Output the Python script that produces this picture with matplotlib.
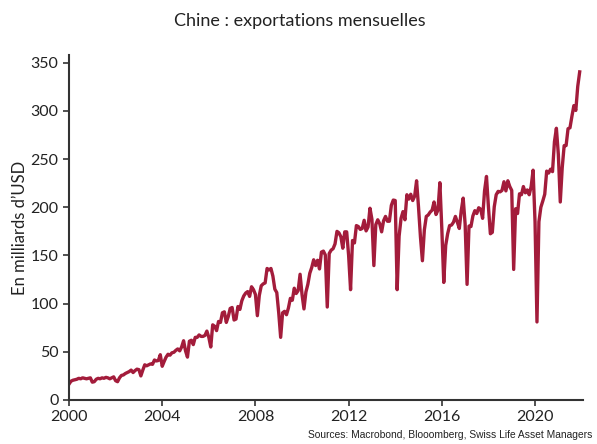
import numpy as np
import matplotlib
matplotlib.use("Agg")
import matplotlib.pyplot as plt

# monthly Chinese exports, bn USD (Jan..Dec)
years = list(range(2000, 2022))
exports = {
    2000: [16.5, 19.5, 20.5, 21.0, 21.5, 22.5, 22.0, 23.0, 22.5, 22.0, 22.5, 23.0],
    2001: [18.5, 19.0, 21.5, 22.5, 22.0, 23.0, 22.5, 23.5, 23.0, 22.0, 23.0, 24.0],
    2002: [20.0, 19.0, 23.0, 25.5, 26.0, 27.5, 28.5, 29.5, 31.0, 28.5, 30.5, 32.0],
    2003: [31.5, 25.0, 31.0, 36.5, 35.5, 36.5, 37.5, 37.0, 41.5, 40.5, 41.0, 47.0],
    2004: [35.0, 40.0, 44.5, 47.5, 46.5, 49.0, 49.5, 51.5, 53.0, 51.0, 55.0, 61.5],
    2005: [51.0, 44.5, 61.0, 62.0, 57.5, 65.0, 65.0, 67.5, 66.0, 66.0, 67.0, 71.5],
    2006: [65.0, 55.0, 78.0, 76.5, 72.0, 81.5, 80.5, 90.5, 91.5, 80.5, 86.5, 95.0],
    2007: [96.0, 83.0, 84.0, 97.0, 94.0, 103.0, 108.0, 111.0, 112.5, 107.5, 117.5, 114.5],
    2008: [109.5, 87.5, 108.5, 118.5, 120.5, 121.5, 136.5, 135.0, 136.5, 128.5, 115.0, 111.5],
    2009: [90.5, 65.0, 90.5, 92.0, 88.5, 95.5, 105.5, 103.5, 116.0, 110.5, 113.5, 130.5],
    2010: [109.5, 94.5, 112.0, 120.0, 131.5, 137.5, 145.5, 139.5, 145.0, 136.0, 153.5, 154.5],
    2011: [150.5, 96.5, 152.0, 155.5, 157.0, 162.0, 175.0, 173.5, 169.5, 157.5, 174.5, 174.5],
    2012: [150.0, 114.5, 165.5, 163.0, 181.0, 180.0, 177.0, 178.0, 186.5, 175.5, 179.5, 199.0],
    2013: [187.5, 139.5, 182.0, 187.0, 183.0, 174.5, 186.0, 190.5, 185.5, 185.5, 202.0, 207.5],
    2014: [207.0, 114.5, 170.0, 188.5, 195.5, 187.0, 213.0, 208.5, 213.5, 207.0, 211.5, 227.5],
    2015: [200.0, 169.0, 144.5, 176.5, 190.5, 192.0, 195.0, 197.0, 205.5, 192.5, 197.0, 225.5],
    2016: [177.5, 122.0, 160.5, 172.5, 181.0, 181.5, 184.5, 190.5, 184.5, 178.0, 196.5, 209.5],
    2017: [182.5, 120.0, 180.5, 180.0, 191.0, 196.5, 193.5, 199.5, 198.0, 188.5, 217.0, 232.0],
    2018: [200.5, 172.5, 174.0, 200.5, 213.0, 216.5, 216.0, 217.5, 226.5, 217.0, 227.5, 221.5],
    2019: [217.5, 135.5, 198.5, 193.5, 214.0, 213.0, 221.5, 215.0, 218.0, 213.0, 221.5, 238.5],
    2020: [185.0, 81.0, 185.0, 200.0, 206.5, 213.5, 237.5, 235.5, 239.5, 237.0, 268.0, 282.0],
    2021: [255.0, 205.5, 241.0, 264.0, 264.0, 281.5, 282.5, 294.5, 305.5, 300.5, 325.5, 340.5],
}
x_ticks = [2000, 2004, 2008, 2012, 2016, 2020]
y_ticks = [0, 50, 100, 150, 200, 250, 300, 350]

t = []
v = []
for yr in years:
    for m, val in enumerate(exports[yr]):
        t.append(yr + m / 12.0)
        v.append(val)

plt.rcParams['font.family'] = ['Lato', 'DejaVu Sans']

fig = plt.figure(figsize=(5.97, 4.44), dpi=100)
ax = fig.add_axes([0.1156, 0.0991, 0.861, 0.777])

ax.plot(t, v, color="#A31C3B", lw=2.4, solid_joinstyle="round")

ax.set_xlim(2000, 2022.06)
ax.set_ylim(0, 358)
ax.set_xticks(x_ticks)
ax.set_yticks(y_ticks)
ax.tick_params(direction="out", length=4, width=1.2, colors="#333333",
               labelsize=11.5, labelcolor="#222222")
for s in ["top", "right"]:
    ax.spines[s].set_visible(False)
for s in ["left", "bottom"]:
    ax.spines[s].set_color("#333333")
    ax.spines[s].set_linewidth(1.5)

ax.set_ylabel("En milliards d\u2019USD", fontsize=12, color="#222222", labelpad=1.5)
fig.text(0.503, 0.952, "Chine : exportations mensuelles", ha="center", va="center",
         fontsize=13, color="#222222")
fig.text(0.993, 0.008, "Sources: Macrobond, Blooomberg, Swiss Life Asset Managers",
         ha="right", va="bottom", fontsize=7.4, family="Liberation Sans", color="#222222")

fig.savefig("out.png", dpi=100)
